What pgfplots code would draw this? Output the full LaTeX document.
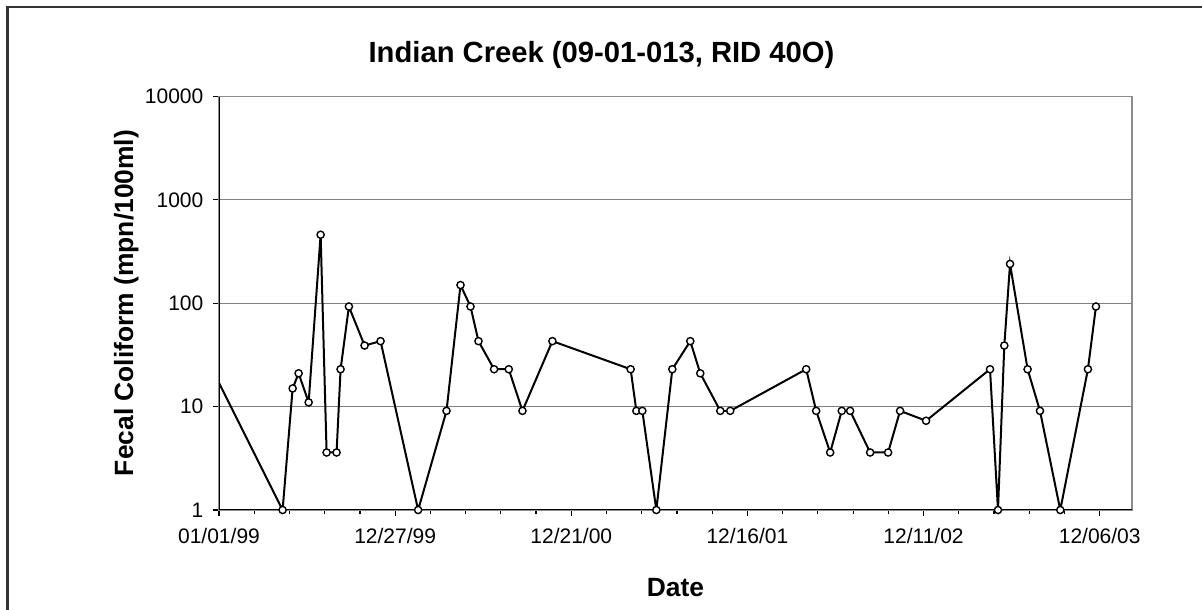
\documentclass[border=0pt]{standalone}
\usepackage{fontspec}
\setmainfont{Liberation Sans}
\usepackage{pgfplots}
\usepackage{pgfplotstable}
\pgfplotsset{compat=1.18}
\pgfplotstableread{
day val
-14 23
130 1
150.5 15
162.7 21
183.2 11
207.7 460
219.9 3.6
240.3 3.6
248.5 23
265.5 93
297.5 39
330.2 43
407.0 1
465.0 9.1
493.6 150
514.0 93
530.3 43
562.2 23
592.2 23
620.2 9.1
681.4 43
841.3 23
853.0 9.1
865.2 9.1
893.8 1
926.5 23
963.2 43
983.6 21
1024.5 9.1
1044.9 9.1
1200.1 23
1220.5 9.1
1249.1 3.6
1272.8 9.1
1289.9 9.1
1330.8 3.6
1367.5 3.6
1392.0 9.1
1445.1 7.3
1575.8 23
1592.1 1
1605.0 39
1616.7 240
1652.6 23
1677.9 9.1
1719.4 1
1775.9 23
1792.3 93
}\fecal
\begin{document}
\begin{tikzpicture}
\useasboundingbox (0,0) rectangle (601bp,305bp);
\fill[white] (0,0) rectangle (601bp,305bp);
\draw[line width=1.1bp, color=black!80] (3.75bp,-3bp) -- (3.75bp,301.65bp) -- (605bp,301.65bp);
\begin{axis}[
  at={(109.5bp,50bp)}, anchor=south west,
  scale only axis, width=456.5bp, height=206.75bp,
  ymode=log, xmin=0, xmax=1866, ymin=1, ymax=10000,
  clip=true,
  axis line style={draw=gray!90, line width=0.6bp},
  tick pos=left, tick align=outside,
  major tick length=2.8bp, minor tick length=1.8bp,
  tick style={black, line width=0.6bp},
  xtick={0,360,720,1080,1440,1800},
  xticklabels={01/01/99,12/27/99,12/21/00,12/16/01,12/11/02,12/06/03},
  minor xtick={72,144,216,288,432,504,576,648,792,864,936,1008,1152,1224,1296,1368,1512,1584,1656,1728},
  ytick={1,10,100,1000,10000},
  yticklabels={1,10,100,1000,10000},
  yminorticks=false,
  ymajorgrids, grid style={gray, line width=0.6bp},
  /pgf/number format/assume math mode=true,
  tick label style={font=\fontsize{10.5bp}{12bp}\selectfont},
  xticklabel style={yshift=-3bp},
  yticklabel style={xshift=-1.5bp},
]
\draw[black, line width=0.8bp] (rel axis cs:0,1) -- (rel axis cs:0,0) -- (rel axis cs:1,0);
\addplot[black, line width=1bp, mark=*, mark size=1.8bp, mark options={fill=white, line width=0.7bp}] table[x=day, y=val] {\fecal};
\end{axis}
\node[anchor=base, font=\bfseries\fontsize{14.6bp}{17bp}\selectfont] at (300.75bp,273.5bp) {Indian Creek (09-01-013, RID 40O)};
\node[anchor=base, rotate=90, font=\bfseries\fontsize{13.2bp}{15bp}\selectfont] at (66.5bp,153.5bp) {Fecal Coliform (mpn/100ml)};
\node[anchor=base, font=\bfseries\fontsize{13.2bp}{15bp}\selectfont] at (337.75bp,7bp) {Date};
\end{tikzpicture}
\end{document}
